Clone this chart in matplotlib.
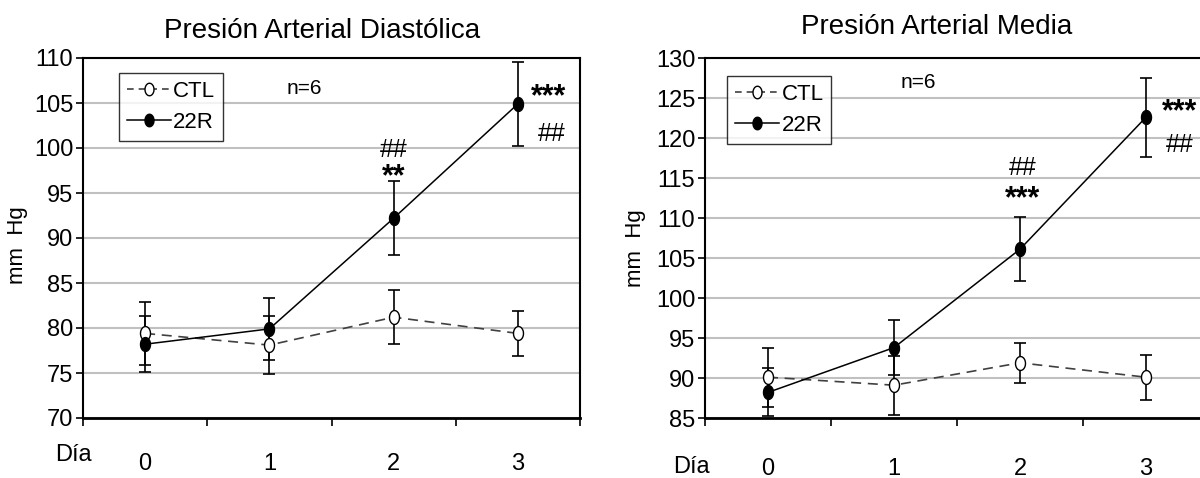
import numpy as np
import matplotlib
matplotlib.use('Agg')
import matplotlib.pyplot as plt
from matplotlib.lines import Line2D

plt.rcParams['font.family'] = ['Liberation Sans', 'DejaVu Sans']

# data
days = [0, 1, 2, 3]
day_labels = ['0', '1', '2', '3']

pad_ctl = [79.4, 78.1, 81.2, 79.4]
pad_ctl_err = [3.5, 3.2, 3.0, 2.5]
pad_22r = [78.2, 79.9, 92.2, 104.9]
pad_22r_err = [3.1, 3.4, 4.1, 4.7]

pam_ctl = [90.1, 89.1, 91.9, 90.1]
pam_ctl_err = [3.7, 3.7, 2.5, 2.8]
pam_22r = [88.2, 93.8, 106.1, 122.6]
pam_22r_err = [3.0, 3.4, 4.0, 4.95]

# slightly tall oval marker like the original
t = np.linspace(0, 2 * np.pi, 40)
oval = list(zip(0.72 * np.cos(t), np.sin(t)))

fig = plt.figure(figsize=(12, 4.78), dpi=100)
ax1 = fig.add_axes([83 / 1200, 60 / 478, 497 / 1200, 360 / 478])
ax2 = fig.add_axes([705 / 1200, 60 / 478, 504 / 1200, 360 / 478])


def draw_panel(ax, ctl, ctl_err, r22, r22_err, ylim, yticks):
    ax.errorbar(days, ctl, yerr=ctl_err, fmt='none', ecolor='black',
                elinewidth=1.2, capsize=4, capthick=1.2, zorder=3)
    ax.errorbar(days, r22, yerr=r22_err, fmt='none', ecolor='black',
                elinewidth=1.2, capsize=4, capthick=1.2, zorder=3)
    ax.plot(days, ctl, linestyle=(0, (6, 4)), color='#404040', lw=1.2,
            marker=oval, markersize=10, markerfacecolor='white',
            markeredgecolor='black', markeredgewidth=1.0, zorder=4)
    ax.plot(days, r22, linestyle='-', color='black', lw=1.1,
            marker=oval, markersize=10, markerfacecolor='black',
            markeredgecolor='black', zorder=5)
    ax.set_xlim(-0.5, 3.5)
    ax.set_ylim(*ylim)
    ax.set_yticks(yticks)
    ax.yaxis.grid(True, color='#c0c0c0', lw=1.5)
    ax.set_axisbelow(True)
    ax.set_xticks([-0.5, 0.5, 1.5, 2.5, 3.5])
    ax.set_xticklabels([])
    ax.set_xticks(days, minor=True)
    ax.set_xticklabels(day_labels, minor=True)
    ax.tick_params(axis='x', which='major', direction='out', length=6, width=1.2)
    ax.tick_params(axis='x', which='minor', length=0, labelsize=17)
    ax.tick_params(axis='y', direction='out', length=5, width=1.2, labelsize=17, pad=2)
    for s in ax.spines.values():
        s.set_linewidth(1.5)
        s.set_color('black')
    ax.spines['bottom'].set_linewidth(2)
    handles = [Line2D([], [], linestyle=(0, (4, 3)), color='#404040', lw=1.2,
                      marker=oval, markersize=9, markerfacecolor='white',
                      markeredgecolor='black'),
               Line2D([], [], linestyle='-', color='black', lw=1.1,
                      marker=oval, markersize=9, markerfacecolor='black')]
    return handles


def add_legend(ax, handles, anchor):
    leg = ax.legend(handles, ['CTL', '22R'], loc='upper left', bbox_to_anchor=anchor,
                    frameon=True, fancybox=False, fontsize=16, handlelength=2.0,
                    handletextpad=0.1, borderpad=0.35, labelspacing=0.45,
                    borderaxespad=0)
    leg.get_frame().set_edgecolor('black')
    leg.get_frame().set_linewidth(1.0)


h = draw_panel(ax1, pad_ctl, pad_ctl_err, pad_22r, pad_22r_err, (70, 110),
               np.arange(70, 111, 5))
ax1.tick_params(axis='x', which='minor', pad=25)
add_legend(ax1, h, (0.072, 0.958))
ax1.text(1.28, 106.6, 'n=6', fontsize=15, ha='center', va='center')
ax1.text(2.0, 99.8, '##', fontsize=18, ha='center', va='center')
ax1.text(2.0, 96.8, '**', fontsize=22, fontweight='bold', ha='center', va='center')
ax1.text(3.25, 105.6, '***', fontsize=22, fontweight='bold', ha='center', va='center')
ax1.text(3.27, 101.6, '##', fontsize=18, ha='center', va='center')

h = draw_panel(ax2, pam_ctl, pam_ctl_err, pam_22r, pam_22r_err, (85, 130),
               np.arange(85, 131, 5))
ax2.tick_params(axis='x', which='minor', pad=29)
add_legend(ax2, h, (0.044, 0.95))
ax2.text(1.19, 126.9, 'n=6', fontsize=15, ha='center', va='center')
ax2.text(2.02, 116.3, '##', fontsize=18, ha='center', va='center')
ax2.text(2.02, 112.3, '***', fontsize=22, fontweight='bold', ha='center', va='center')
ax2.text(3.27, 123.2, '***', fontsize=22, fontweight='bold', ha='center', va='center')
ax2.text(3.27, 119.1, '##', fontsize=18, ha='center', va='center')

# titles and axis labels
fig.text(322 / 1200, 1 - 31 / 478, 'Presión Arterial Diastólica', fontsize=20,
         ha='center', va='center')
fig.text(937 / 1200, 1 - 27 / 478, 'Presión Arterial Media', fontsize=20,
         ha='center', va='center')
fig.text(18 / 1200, 1 - 245 / 478, 'mm  Hg', fontsize=16, rotation=90,
         ha='center', va='center')
fig.text(635 / 1200, 1 - 248 / 478, 'mm  Hg', fontsize=16, rotation=90,
         ha='center', va='center')
fig.text(73 / 1200, 1 - 455 / 478, 'Día', fontsize=17, ha='center', va='center')
fig.text(691 / 1200, 1 - 467 / 478, 'Día', fontsize=17, ha='center', va='center')

fig.savefig('out.png', dpi=100)
